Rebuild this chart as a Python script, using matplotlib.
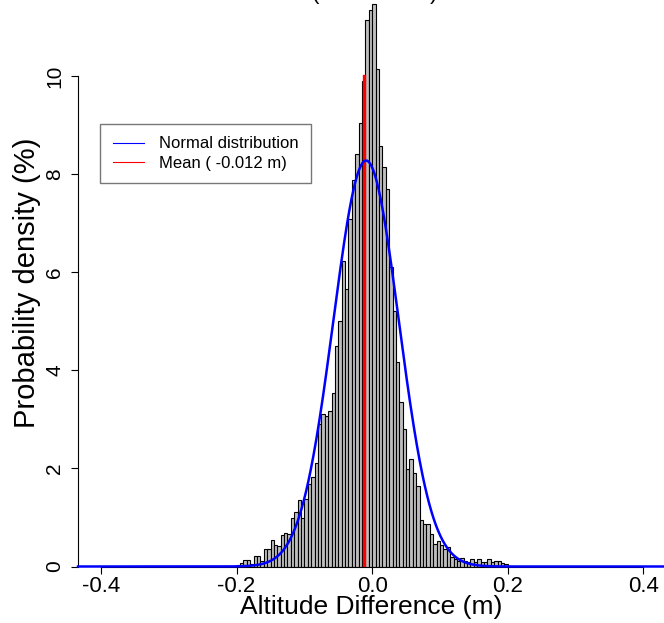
import numpy as np
import matplotlib
matplotlib.use("Agg")
import matplotlib.pyplot as plt
from matplotlib.lines import Line2D

plt.rcParams['font.family'] = ['Liberation Sans', 'DejaVu Sans']

# ---- data ----
bin_start = -0.2
bin_width = 0.005
density = [
    0.03, 0.08, 0.14, 0.14, 0.05, 0.22, 0.22, 0.12, 0.36, 0.36,
    0.54, 0.44, 0.42, 0.65, 0.68, 0.67, 0.99, 1.11, 1.36, 0.99,
    1.38, 1.69, 1.82, 2.12, 2.91, 3.10, 3.06, 3.17, 3.54, 4.49,
    5.00, 6.22, 5.65, 7.09, 7.88, 8.40, 9.04, 9.90, 11.14, 11.35,
    11.46, 10.14, 8.57, 8.15, 7.70, 6.10, 5.20, 4.16, 3.35, 2.81,
    1.99, 2.20, 1.90, 1.65, 0.95, 0.87, 0.87, 0.67, 0.45, 0.51,
    0.44, 0.36, 0.39, 0.19, 0.16, 0.12, 0.18, 0.12, 0.09, 0.16,
    0.09, 0.16, 0.09, 0.09, 0.16, 0.09, 0.12, 0.12, 0.07, 0.06,
]
mean_value = -0.012
norm_mu = -0.009
norm_sd = 0.0482
mean_line_top = 10
x_ticks = [-0.4, -0.2, 0.0, 0.2, 0.4]
y_ticks = [0, 2, 4, 6, 8, 10]
title = "(2018.12.31)"
x_label = "Altitude Difference (m)"
y_label = "Probability density (%)"
legend_labels = ["Normal distribution", "Mean ( -0.012 m)"]

# ---- figure ----
W, H = 664, 623
fig = plt.figure(figsize=(W / 100, H / 100), dpi=100)
y0_px = 566.5
px_per_unit = 49.05
ax = fig.add_axes([78 / W, (H - y0_px) / H, (W - 78) / W, y0_px / H])
ax.set_xlim(-0.434, 0.4305)
ax.set_ylim(0, y0_px / px_per_unit)

edges = bin_start + bin_width * np.arange(len(density) + 1)
ax.bar(edges[:-1], density, width=bin_width, align='edge',
       color='#BEBEBE', edgecolor='black', linewidth=0.8, zorder=2)

xs = np.linspace(-0.434, 0.4305, 800)
pdf = np.exp(-0.5 * ((xs - norm_mu) / norm_sd) ** 2) / (norm_sd * np.sqrt(2 * np.pi))
ax.plot(xs, pdf, color='#0000FF', lw=1.8, zorder=4, clip_on=False)
ax.plot([mean_value, mean_value], [0, mean_line_top], color='#FF0000', lw=2.4, zorder=3)

for s in ['top', 'right']:
    ax.spines[s].set_visible(False)
ax.spines['left'].set_bounds(0, 10)
ax.spines['bottom'].set_bounds(-0.4, 0.4)
ax.spines['left'].set_linewidth(0.8)
ax.spines['bottom'].set_linewidth(0.8)
ax.set_xticks(x_ticks)
ax.set_xticklabels([f"{t:.1f}" for t in x_ticks])
ax.set_yticks(y_ticks)
ax.set_yticklabels([str(t) for t in y_ticks], rotation=90, va='center')
ax.tick_params(axis='both', length=5, width=0.8)
ax.tick_params(axis='x', labelsize=16, pad=1.5)
ax.tick_params(axis='y', labelsize=15, pad=5)

ax.set_xlabel(x_label, fontsize=19, labelpad=-1)
ax.set_ylabel(y_label, fontsize=21, labelpad=3)

fig.text(375 / W, 1 + 1.0 / H, title, ha='center', va='baseline', fontsize=16)

handles = [Line2D([], [], color='#0000FF', lw=0.8),
           Line2D([], [], color='#FF0000', lw=0.8)]
leg = ax.legend(handles, legend_labels, loc='upper left',
                bbox_to_anchor=(100 / W, 1 - 124 / H), bbox_transform=fig.transFigure,
                borderaxespad=0, fontsize=12, handlelength=1.9, handletextpad=0.9,
                borderpad=0.75, labelspacing=0.25, fancybox=False, frameon=True)
leg.get_frame().set_edgecolor('#555555')
leg.get_frame().set_linewidth(1.0)

fig.savefig('out.png', dpi=100)
